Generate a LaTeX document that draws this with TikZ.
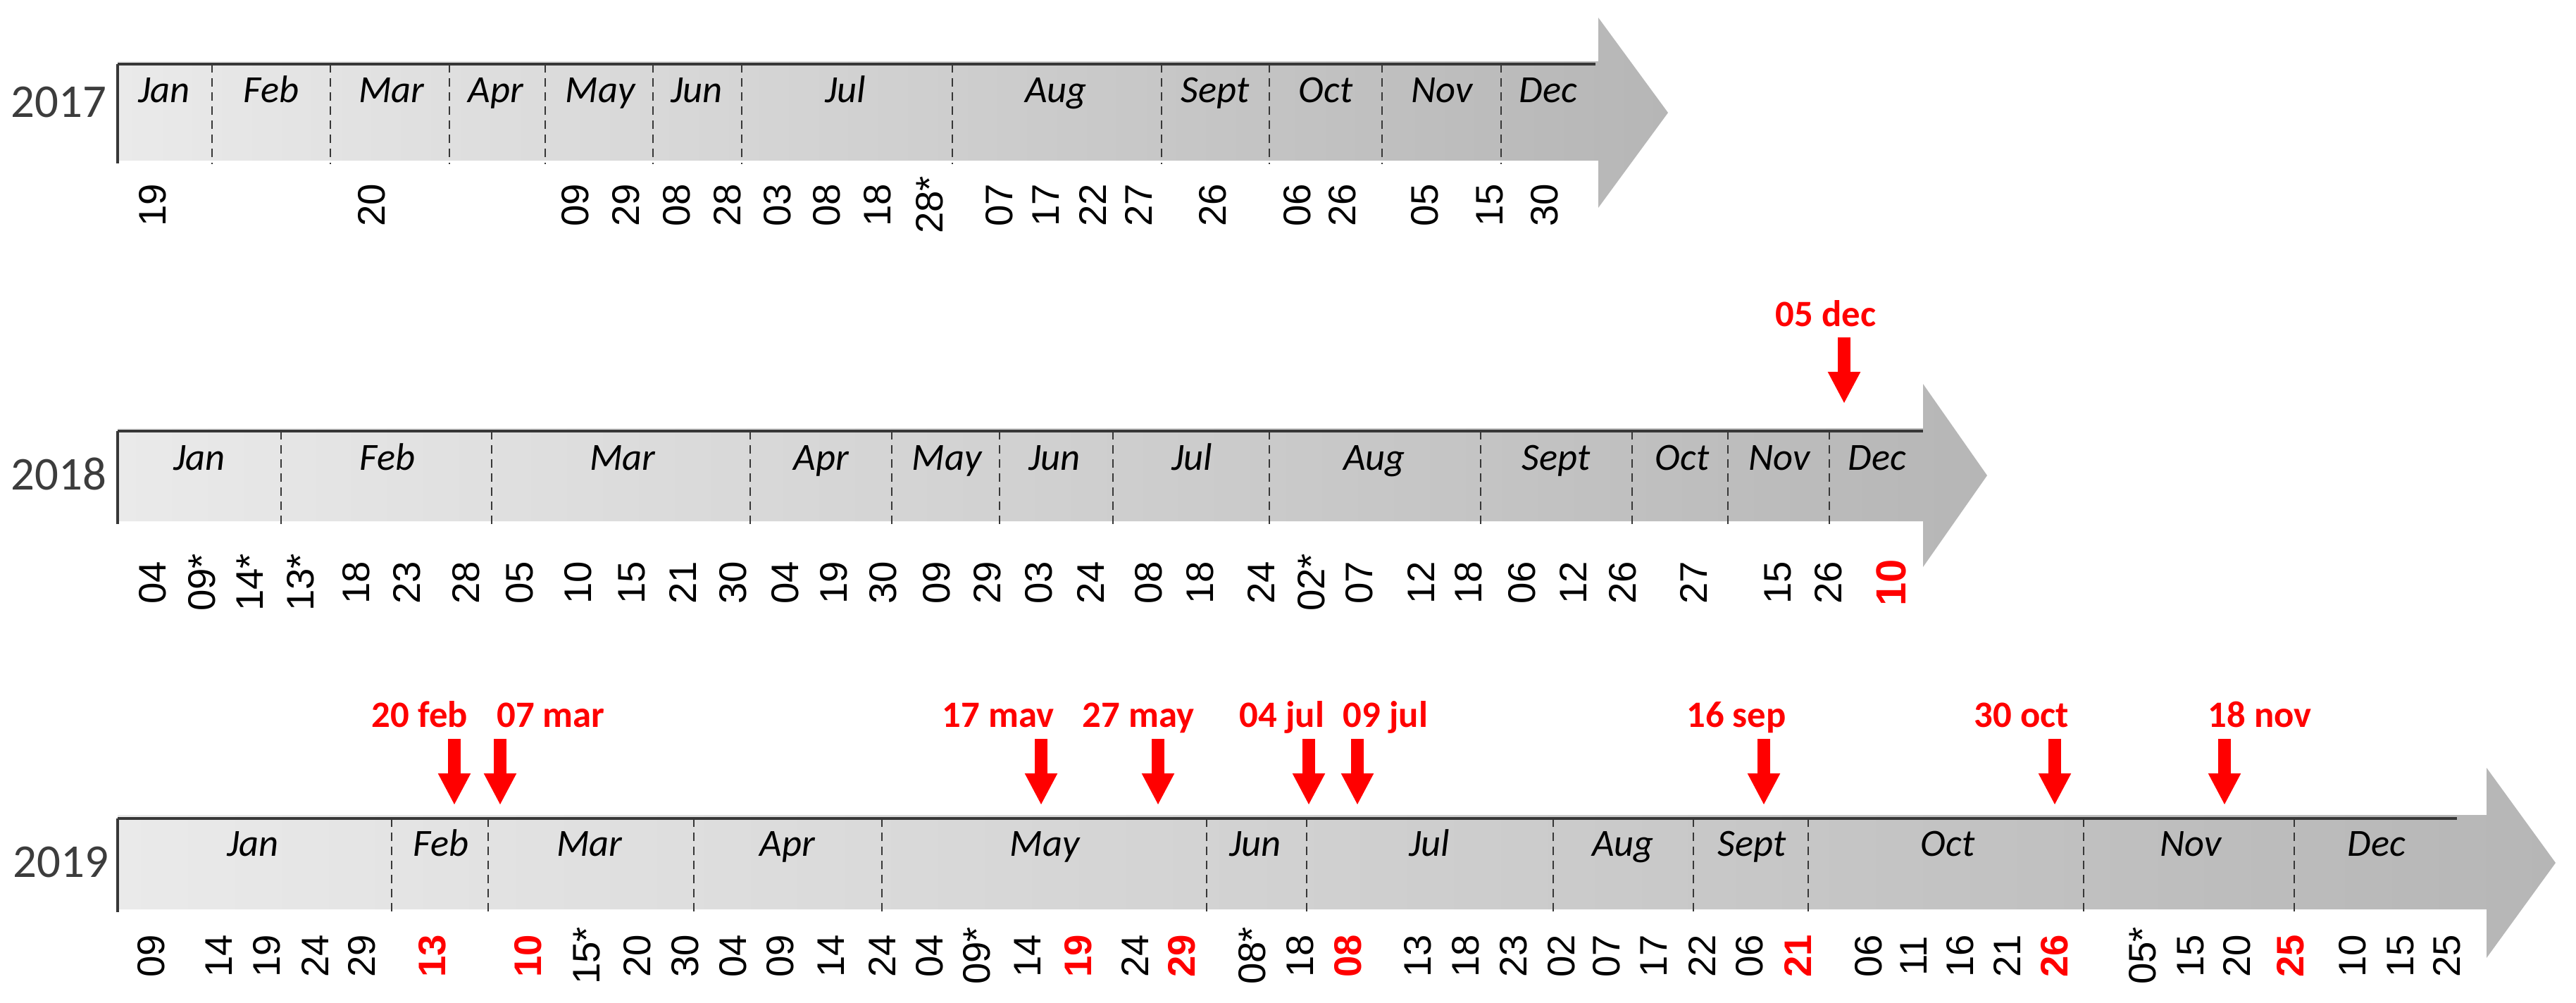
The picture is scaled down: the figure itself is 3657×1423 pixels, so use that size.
\documentclass[tikz,border=0pt]{standalone}
\usepackage{fontspec}
\setmainfont{Carlito}
\newfontfamily\datefont{Liberation Sans}
\usetikzlibrary{arrows.meta}
\definecolor{barlight}{RGB}{234,234,234}
\definecolor{bardark}{RGB}{182,182,182}
\definecolor{edgegray}{RGB}{55,55,55}
\definecolor{yeargray}{RGB}{60,60,60}
\definecolor{mkred}{RGB}{255,0,0}
\begin{document}
\begin{tikzpicture}[x=0.01cm,y=-0.01cm,
  month/.style={font=\itshape\fontsize{15.5}{15.5}\selectfont, anchor=base, inner sep=0},
  yearlbl/.style={font=\fontsize{19}{19}\selectfont, text=yeargray, anchor=east, inner sep=0},
  date/.style={font=\datefont\fontsize{15.5}{15.5}\selectfont, rotate=90, inner sep=0, anchor=center},
  rdate/.style={date, font=\datefont\bfseries\fontsize{15.5}{15.5}\selectfont, text=mkred},
  divider/.style={draw=edgegray, line width=0.02cm, dash pattern=on 0.12cm off 0.08cm},
  edgeline/.style={draw=edgegray, line width=0.035cm},
  redlabel/.style={font=\bfseries\fontsize{15}{15}\selectfont, text=mkred, anchor=base, inner sep=0},
  redarrow/.style={draw=mkred, line width=0.18cm, -{Triangle[width=0.43cm,length=0.45cm]}},
]
\useasboundingbox (0,0) rectangle (3657,1423);

% ---------------- 2017 ----------------
\shade[left color=barlight, right color=bardark] (167,87) -- (2269,87) -- (2269,25) -- (2368,160) -- (2269,295) -- (2269,228) -- (167,228) -- cycle;
\foreach \x in {301,469,638,774,927,1053,1352,1649,1802,1962,2131}
  \draw[divider] (\x,91) -- (\x,233);
\draw[edgeline] (167,91) -- (2265,91);
\draw[edgeline] (167,91) -- (167,232);
\node[yearlbl] (y1) at (152,145) {2017};
\foreach \x/\t [count=\i] in {233/Jan,385/Feb,556/Mar,704/Apr,852/May,989/Jun,1200/Jul,1499/Aug,1725/Sept,1882/Oct,2047/Nov,2198/Dec}
  \node[month] (ma\i) at (\x,145) {\t};
\foreach \x/\t [count=\i] in {217/19,528/20,817/09,889/29,961/08,1033/28,1104/03,1174/08,1246/18,1320/28*,1419/07,1485/17,1551/22,1616/27,1722/26,1842/06,1906/26,2023/05,2115/15,2193/30}
  \node[date] (da\i) at (\x,291) {\t};

% ---------------- 2018 ----------------
\shade[left color=barlight, right color=bardark] (167,608) -- (2730,608) -- (2730,545) -- (2821,675) -- (2730,805) -- (2730,740) -- (167,740) -- cycle;
\foreach \x in {399,698,1065,1266,1419,1580,1802,2102,2317,2453,2597}
  \draw[divider] (\x,612) -- (\x,745);
\draw[edgeline] (167,612) -- (2730,612);
\draw[edgeline] (167,612) -- (167,744);
\node[yearlbl] (y2) at (152,673) {2018};
\foreach \x/\t [count=\i] in {283/Jan,550/Feb,884/Mar,1166/Apr,1344/May,1497/Jun,1692/Jul,1951/Aug,2209/Sept,2388/Oct,2526/Nov,2665/Dec}
  \node[month] (mb\i) at (\x,667) {\t};
\foreach \x/\t [count=\i] in {217/04,287/09*,355/14*,427/13*,506/18,578/23,662/28,738/05,821/10,897/15,969/21,1041/30,1115/04,1184/19,1254/30,1330/09,1402/29,1475/03,1548/24,1631/08,1704/18,1790/24,1862/02*,1930/07,2017/12,2085/18,2161/06,2233/12,2304/26,2404/27,2524/15,2596/26}
  \node[date] (db\i) at (\x,827) {\t};
\node[rdate, font=\datefont\bfseries\fontsize{17}{17}\selectfont] (dbr) at (2685,827) {10};
\node[redlabel] (lb1) at (2592,463) {05 dec};
\coordinate (ab1s) at (2618,479);
\coordinate (ab1e) at (2618,573);
\draw[redarrow] (ab1s) -- (ab1e);

% ---------------- 2019 ----------------
\shade[left color=barlight, right color=bardark] (167,1157) -- (3530,1157) -- (3530,1090) -- (3628,1225) -- (3530,1360) -- (3530,1291) -- (167,1291) -- cycle;
\foreach \x in {693,1713,1855,2205,2404,2567,2958,3257}
  \draw[divider] (\x,1162) -- (\x,1296);
\foreach \x in {556,985,1252}
  \draw[divider, line width=0.028cm] (\x,1162) -- (\x,1296);
\draw[edgeline] (167,1162) -- (3488,1162);
\draw[edgeline] (167,1162) -- (167,1295);
\node[yearlbl] (y3) at (155,1224) {2019};
\foreach \x/\t [count=\i] in {359/Jan,626/Feb,837/Mar,1118/Apr,1483/May,1782/Jun,2029/Jul,2304/Aug,2487/Sept,2765/Oct,3110/Nov,3374/Dec}
  \node[month] (mc\i) at (\x,1215) {\t};
\foreach \x/\t [count=\i] in {215/09,311/14,379/19,447/24,514/29,833/15*,905/20,973/30,1041/04,1108/09,1180/14,1252/24,1320/04,1387/09*,1459/14,1611/24,1778/08*,1846/18,2013/13,2081/18,2149/23,2217/02,2281/07,2348/17,2416/22,2484/06,2653/06,2717/11,2783/16,2849/21,3042/05*,3110/15,3176/20,3340/10,3408/15,3474/25}
  \node[date] (dc\i) at (\x,1357) {\t};
\foreach \x/\t [count=\i] in {614/13,750/10,1531/19,1678/29,1914/08,2552/21,2917/26,3252/25}
  \node[rdate] (dcr\i) at (\x,1357) {\t};
\foreach \lx/\ax/\t [count=\i] in {596/645/20 feb,782/710/07 mar,1417/1478/17 mav,1616/1644/27 may,1820/1858/04 jul,1967/1927/09 jul,2465/2504/16 sep,2870/2917/30 oct,3208/3158/18 nov}
{
  \node[redlabel] (lc\i) at (\lx,1032) {\t};
  \coordinate (ac\i s) at (\ax,1049);
  \coordinate (ac\i e) at (\ax,1143);
  \draw[redarrow] (ac\i s) -- (ac\i e);
}
\end{tikzpicture}
\end{document}
